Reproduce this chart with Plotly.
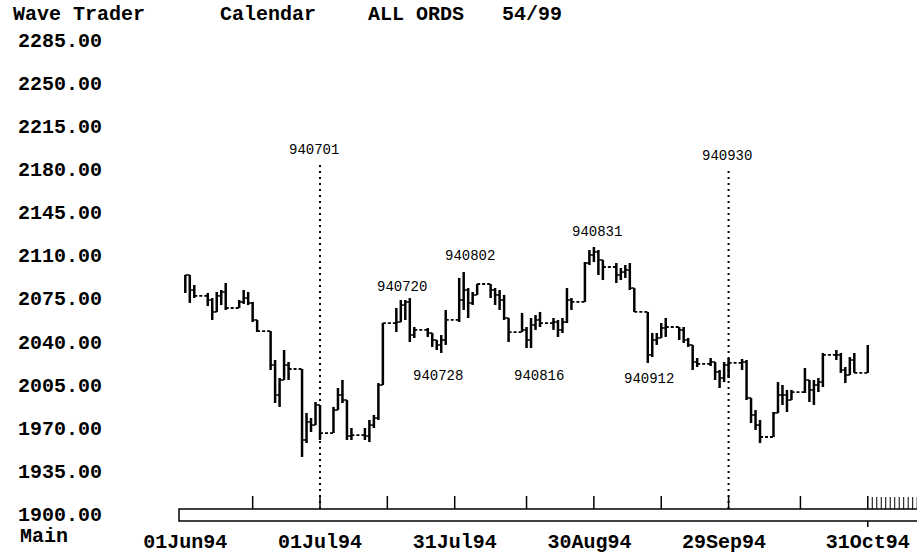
import plotly.graph_objects as go
import pandas as pd

# ---------------- data ----------------
jun_days = [1,2,3,6,7,8,9,10,13,14,15,16,17,20,21,22,23,24,27,28,29,30]
jul_days = [1,4,5,6,7,8,11,12,13,14,15,18,19,20,21,22,25,26,27,28,29]
aug_days = [1,2,3,4,5,8,9,10,11,12,15,16,17,18,19,22,23,24,25,26,29,30,31]
sep_days = [1,2,5,6,7,8,9,12,13,14,15,16,19,20,21,22,23,26,27,28,29,30]
oct_days = [3,4,5,6,7,10,11,12,13,14,17,18,19,20,21,24,25,26,27,28,31]

highs = [
    2094.0, 2094.0, 2085.9, 2079.4, 2075.3, 2080.2, 2081.8, 2087.5, 2073.7, 2081.8, 2080.2, 2072.1, 2057.5, 2048.5, 2025.0, 2010.4, 2033.1, 2023.4, 2016.9, 1982.0, 1977.9, 1990.9,
    1988.5, 1986.9, 2002.3, 2008.8, 1990.9, 1969.8, 1969.8, 1976.3, 1980.4, 2006.3, 2055.0, 2067.2, 2073.7, 2073.7, 2075.3, 2051.8, 2051.0, 2046.9, 2041.2, 2045.3, 2065.6,
    2091.6, 2096.4, 2083.4, 2080.2, 2086.7, 2086.7, 2083.4, 2081.8, 2077.8, 2059.1, 2063.2, 2051.8, 2059.1, 2061.5, 2064.0, 2059.1, 2057.5, 2059.1, 2083.4, 2075.3, 2104.5, 2114.3, 2116.7,
    2114.3, 2106.2, 2103.7, 2099.7, 2102.1, 2103.7, 2083.4, 2064.0, 2046.9, 2046.9, 2055.0, 2059.1, 2051.8, 2051.8, 2042.9, 2033.1, 2026.6, 2026.6, 2023.4, 2016.9, 2023.4, 2026.6,
    2025.8, 2025.0, 1994.2, 1984.4, 1976.3, 1982.8, 2007.1, 2004.7, 2000.7, 2000.7, 2018.5, 2008.8, 2008.8, 2010.4, 2030.7, 2033.1, 2030.7, 2019.3, 2027.4, 2030.7, 2037.2,
]
lows = [
    2079.4, 2071.3, 2075.3, 2068.8, 2057.5, 2064.0, 2069.6, 2065.6, 2067.2, 2070.5, 2069.6, 2055.8, 2047.7, 2016.9, 1990.1, 1986.9, 2008.8, 2008.8, 1946.3, 1957.6, 1966.6, 1976.3,
    1960.1, 1965.7, 1984.4, 1990.1, 1960.1, 1960.1, 1960.1, 1958.4, 1969.8, 1976.3, 2004.7, 2047.7, 2055.8, 2057.5, 2039.6, 2042.9, 2043.7, 2035.6, 2033.1, 2030.7, 2037.2,
    2055.8, 2065.6, 2059.1, 2069.6, 2077.8, 2075.3, 2069.6, 2065.6, 2057.5, 2039.6, 2047.7, 2034.7, 2034.7, 2049.4, 2051.8, 2049.4, 2043.7, 2046.9, 2055.0, 2065.6, 2072.1, 2102.1, 2104.5,
    2094.0, 2089.9, 2087.5, 2089.9, 2091.6, 2081.8, 2064.0, 2022.6, 2027.4, 2037.2, 2043.7, 2043.7, 2041.2, 2038.8, 2035.6, 2016.9, 2019.3, 2020.1, 2008.8, 2002.3, 2007.1, 2010.4,
    2016.9, 1992.5, 1973.9, 1968.2, 1957.6, 1962.5, 1982.0, 1988.5, 1982.8, 1992.5, 1998.2, 1990.9, 1988.5, 1999.0, 2003.1, 2025.0, 2014.5, 2006.3, 2012.8, 2014.5, 2014.5,
]
closes = [
    2094.0, 2081.8, 2077.0, 2073.7, 2064.0, 2077.0, 2080.2, 2067.2, 2072.1, 2075.3, 2071.3, 2057.5, 2048.5, 2020.9, 1996.6, 2008.8, 2020.9, 2017.7, 1960.1, 1974.7, 1972.2, 1988.5,
    1965.7, 1984.4, 1996.6, 1992.5, 1963.3, 1964.1, 1963.3, 1972.2, 1977.9, 2004.7, 2055.0, 2055.8, 2069.6, 2072.1, 2045.3, 2049.4, 2046.9, 2041.2, 2037.2, 2041.2, 2057.5,
    2073.7, 2081.8, 2071.3, 2077.8, 2086.7, 2081.8, 2077.8, 2073.7, 2059.1, 2047.7, 2049.4, 2041.2, 2053.4, 2057.5, 2055.0, 2055.8, 2049.4, 2055.8, 2073.7, 2072.1, 2103.7, 2110.2, 2112.7,
    2106.2, 2100.5, 2094.0, 2096.4, 2098.1, 2083.4, 2064.0, 2029.1, 2041.2, 2042.9, 2051.0, 2051.8, 2049.4, 2041.2, 2037.2, 2023.4, 2021.8, 2023.4, 2015.3, 2010.4, 2020.9, 2022.6,
    2023.4, 1994.2, 1980.4, 1972.2, 1962.5, 1982.0, 1996.6, 1996.6, 1992.5, 1999.0, 2008.8, 2000.7, 2004.7, 2007.1, 2029.1, 2029.1, 2016.9, 2012.8, 2025.0, 2014.5, 2037.2,
]

y_ticks = [1900, 1935, 1970, 2005, 2040, 2075, 2110, 2145, 2180, 2215, 2250, 2285]
x_tick_dates = ["1994-06-01", "1994-07-01", "1994-07-31", "1994-08-30", "1994-09-29", "1994-10-31"]
x_tick_text = ["01Jun94", "01Jul94", "31Jul94", "30Aug94", "29Sep94", "31Oct94"]

# marker dates (dotted verticals) and swing labels
vlines = ["1994-07-01", "1994-09-30"]
vline_labels = ["940701", "940930"]
vline_tops = [2185.7, 2180.8]
vline_label_y = [2197.9, 2193.0]
swing_dates = ["1994-07-20", "1994-08-02", "1994-08-31", "1994-07-28", "1994-08-16", "1994-09-12"]
swing_labels = ["940720", "940802", "940831", "940728", "940816", "940912"]
swing_y = [2086.7, 2111.9, 2131.3, 2014.5, 2014.5, 2012.0]
axis_ticks = ["1994-06-16", "1994-07-01", "1994-07-16", "1994-07-31", "1994-08-16",
              "1994-08-31", "1994-09-15", "1994-09-30", "1994-10-16", "1994-10-31"]

# ---------------- build ----------------
dates = ([pd.Timestamp(1994, 6, d) for d in jun_days] + [pd.Timestamp(1994, 7, d) for d in jul_days] +
         [pd.Timestamp(1994, 8, d) for d in aug_days] + [pd.Timestamp(1994, 9, d) for d in sep_days] +
         [pd.Timestamp(1994, 10, d) for d in oct_days])

# page geometry (page pixels); body margin is removed so the figure starts at (0,0)
PAGE_W, PAGE_H = 917, 557
L, R, T, B = 179, 917, 30, 527
PX_PER_PT = 1.232
Y0_PX = 514  # page row of 1900
ymin = 1900 - (B - Y0_PX) / PX_PER_PT
ymax = 1900 + (Y0_PX - T) / PX_PER_PT
PX_PER_DAY = 4.49
JUN1_PX = 185.3
jun1 = pd.Timestamp(1994, 6, 1)
xstart = jun1 - pd.Timedelta(days=(JUN1_PX - L) / PX_PER_DAY)
xend = jun1 + pd.Timedelta(days=(R - JUN1_PX) / PX_PER_DAY)

def vy(p):  # page row -> value
    return 1900 + (Y0_PX - p) / PX_PER_PT

def pxx(p):
    return (p - L) / (R - L)

def pyy(p):
    return (B - p) / (B - T)

vx, vyv = [], []
for i, d in enumerate(dates):
    lo, hi = lows[i], highs[i]
    if i > 0:
        lo = min(lo, closes[i - 1]); hi = max(hi, closes[i - 1])
    vx += [d, d, None]; vyv += [lo, hi, None]

wkx, wky, wex, wey = [], [], [], []
for i in range(len(dates) - 1):
    gap = (dates[i + 1] - dates[i]).days
    if gap > 1:
        wex += [dates[i], dates[i + 1], None]; wey += [closes[i], closes[i], None]
    else:
        wkx += [dates[i], dates[i + 1], None]; wky += [closes[i], closes[i], None]

fig = go.Figure()
fig.add_trace(go.Scatter(x=vx, y=vyv, mode="lines", line=dict(color="black", width=2.5), hoverinfo="skip"))
fig.add_trace(go.Scatter(x=wkx, y=wky, mode="lines", line=dict(color="black", width=1.5), hoverinfo="skip"))
fig.add_trace(go.Scatter(x=wex, y=wey, mode="lines", line=dict(color="black", width=1.8, dash="3px,2px"), hoverinfo="skip"))

shapes = []
box_top, box_bot = vy(509), vy(521)
shapes.append(dict(type="rect", xref="paper", yref="y", x0=0, x1=1.02, y0=box_bot, y1=box_top,
                   line=dict(color="black", width=1.5)))
for t in axis_ticks:
    shapes.append(dict(type="line", xref="x", yref="y", x0=t, x1=t, y0=box_top, y1=vy(496),
                       line=dict(color="black", width=1.5)))
for k in range(1, 12):
    t = pd.Timestamp(1994, 11, 1) + pd.Timedelta(days=k - 1)
    shapes.append(dict(type="line", xref="x", yref="y", x0=t, x1=t, y0=box_top, y1=vy(497),
                       line=dict(color="black", width=1)))
shapes.append(dict(type="line", xref="x", yref="y", x0="1994-10-31", x1="1994-10-31", y0=box_bot, y1=vy(531),
                   line=dict(color="black", width=1.5)))
for d, top in zip(vlines, vline_tops):
    shapes.append(dict(type="line", xref="x", yref="y", x0=d, x1=d, y0=box_top, y1=top,
                       line=dict(color="black", width=2, dash="2px,4px")))

mono = "Liberation Mono, Courier New, monospace"
ann = []
vline_xshift = [-6, -2]
for d, t, yv, xs in zip(vlines, vline_labels, vline_label_y, vline_xshift):
    ann.append(dict(x=d, y=yv, xref="x", yref="y", text=t, showarrow=False, xshift=xs, yshift=-3,
                    font=dict(family=mono, size=14, color="black")))
swing_xshift = [-3, 6, 3, -3, 12, 1]
for d, t, yv, xs in zip(swing_dates, swing_labels, swing_y, swing_xshift):
    ann.append(dict(x=d, y=yv, xref="x", yref="y", text=t, showarrow=False, xshift=xs, yshift=-3,
                    font=dict(family=mono, size=14, color="black")))
titles = [("Wave Trader", 11), ("Calendar", 218), ("ALL ORDS", 366), ("54/99", 500)]
for t, x0 in titles:
    ann.append(dict(x=pxx(x0), y=pyy(14), xref="paper", yref="paper", text=t, showarrow=False,
                    xanchor="left", yanchor="middle",
                    font=dict(family=mono, size=20, color="black", weight="bold")))
ann.append(dict(x=pxx(18), y=pyy(536), xref="paper", yref="paper", text="Main", showarrow=False,
                xanchor="left", yanchor="middle", font=dict(family=mono, size=20, color="black", weight="bold")))

fig.update_layout(
    width=PAGE_W, height=PAGE_H,
    margin=dict(l=L, r=PAGE_W - R, t=T, b=PAGE_H - B),
    paper_bgcolor="white", plot_bgcolor="white",
    showlegend=False,
    shapes=shapes, annotations=ann,
    xaxis=dict(type="date", range=[xstart, xend], showgrid=False, zeroline=False, showline=False,
               tickvals=x_tick_dates, ticktext=x_tick_text, ticks="",
               tickfont=dict(family=mono, size=20, color="black", weight="bold")),
    yaxis=dict(range=[ymin, ymax], showgrid=False, zeroline=False, showline=False,
               tickvals=y_ticks, ticktext=[f"{v:.2f}" for v in y_ticks], ticks="",
               ticklabelstandoff=76,
               tickfont=dict(family=mono, size=20, color="black", weight="bold")),
)
fig.write_html("out.html", config={"displayModeBar": False, "staticPlot": True},
               post_script="document.body.style.margin='0';document.body.style.overflow='hidden';")
